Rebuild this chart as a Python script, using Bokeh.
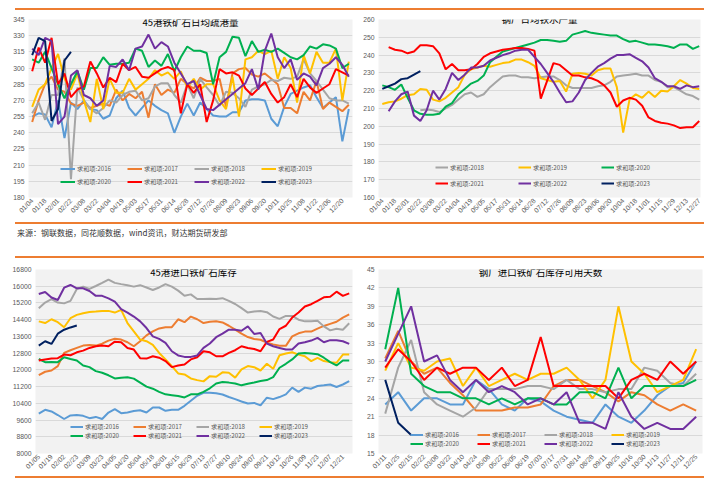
import numpy as np
from bokeh.plotting import figure
from bokeh.models import Range1d, FixedTicker, Legend, LegendItem, Label, Div
from bokeh.layouts import row, column
from bokeh.embed import file_html
from bokeh.resources import INLINE

FONT = "Noto Sans CJK SC"
TICK_FONT = "Liberation Sans"
PLOT_BG = "#f2f2f2"
GRID = "#d9d9d9"
TXT = "#595959"
ORANGE = "#ED7D31"

years = ["2016", "2017", "2018", "2019", "2020", "2021", "2022", "2023"]
colors = ["#5B9BD5", "#ED7D31", "#A5A5A5", "#FFC000", "#00B050", "#FF0000", "#7030A0", "#002060"]
series_prefix = "求和项:"

# ---------------- panel 1: 45港铁矿石日均疏港量 ----------------
tl_title = "45港铁矿石日均疏港量"
tl_ticks = ["01/04", "01/18", "02/01", "02/22", "03/08", "03/22", "04/04", "04/19", "05/03",
            "05/17", "05/31", "06/14", "06/28", "07/12", "07/26", "08/09", "08/23", "09/06",
            "09/20", "10/11", "10/25", "11/08", "11/22", "12/06", "12/20"]
tl_2016 = [255, 258, 257, 245, 270, 235, 268, 262, 270, 262, 261, 253, 256, 272, 279, 263, 256, 263,
           270, 265, 261, 258, 240, 255, 267, 256, 268, 262, 256, 255, 255, 259, 259, 270, 271, 271,
           270, 253, 246, 264, 276, 279, 282, 284, 273, 263, 268, 273, 232, 262]
tl_2017 = [250, 270, 285, 292, 280, 278, 267, 265, 268, 263, 265, 267, 265, 280, 270, 276, 272, 278,
           254, 285, 275, 280, 277, 290, 285, 281, 291, 288, 288, 290, 264, 295, 299, 300, 294, 292,
           295, 290, 285, 263, 263, 258, 278, 270, 288, 262, 268, 264, 260, 266]
tl_2018 = [258, 268, 252, 275, 275, 309, 197, 282, 270, 262, 258, 263, 270, 268, 275, 278, 279, 270,
           272, 283, 286, 286, 275, 268, 285, 272, 290, 282, 275, 265, 278, 277, 272, 264, 280, 283,
           285, 289, 288, 291, 290, 292, 308, 295, 288, 280, 272, 270, 270, 267]
tl_2019 = [264, 280, 285, 300, 313, 290, 280, 295, 270, 250, 290, 262, 290, 277, 277, 290, 280, 285,
           290, 298, 293, 296, 290, 297, 282, 290, 280, 285, 285, 270, 262, 292, 255, 308, 310, 316,
           313, 316, 290, 310, 300, 268, 312, 295, 315, 305, 305, 318, 270, 306]
tl_2020 = [308, 305, 315, 300, 285, 272, 285, 297, 280, 300, 300, 310, 303, 304, 304, 305, 318, 316,
           301, 307, 302, 313, 297, 310, 320, 316, 316, 314, 285, 310, 315, 329, 328, 311, 325, 315,
           317, 315, 318, 314, 310, 308, 312, 320, 318, 322, 321, 318, 300, 304]
tl_2021 = [297, 319, 305, 328, 285, 295, 273, 280, 283, 306, 295, 282, 291, 287, 304, 298, 301, 292,
           291, 295, 299, 301, 298, 258, 285, 277, 285, 250, 270, 299, 295, 296, 293, 281, 275, 281,
           287, 276, 268, 273, 285, 273, 290, 282, 277, 281, 285, 299, 296, 293]
tl_2022 = [318, 312, 328, 325, 248, 255, 293, 298, 275, 272, 265, 270, 302, 301, 308, 298, 318, 320,
           331, 318, 324, 320, 305, 295, 285, 288, 275, 262, 261, 266, 271, 276, 281, 286, 299, 280,
           316, 332, 310, 300, 308, 289, 295, 292, 284, 300, 304, 310, 303, 292]
tl_2023 = [312, 328, 325, 251, 262, 307, 315]

# ---------------- panel 2: 钢厂日均铁水产量 ----------------
tr_title = "钢厂日均铁水产量"
tr_ticks = ["01/04", "01/18", "02/01", "02/22", "03/08", "03/22", "04/04", "04/19", "05/05",
            "05/17", "05/31", "06/14", "06/28", "07/12", "07/26", "08/09", "08/23", "09/06",
            "09/20", "10/04", "10/18", "11/01", "11/15", "11/29", "12/13", "12/27"]
tr_2018 = [None, None, None, None, None, None, 209, 209.5, 209, 208, 210, 212, 215, 218, 219, 216.5,
           218, 222, 225, 228, 228.5, 228.5, 227.5, 227.5, 227, 227.5, 228, 228, 226, 223, 221.5,
           221.5, 221.5, 221.5, 222.5, 223, 225, 228, 228.5, 229, 229.5, 228.5, 228.5, 226, 225, 222,
           222, 220, 218, 217, 215]
tr_2019 = [212.5, 213.5, 214, 215.5, 217.5, 218, 221, 220.5, 215, 214, 216, 219, 222, 229, 232, 233,
           234, 233.5, 234.5, 235.5, 236, 237.5, 237.5, 236, 234, 227, 226, 225, 225.5, 219.5, 229.5,
           230, 229.5, 228.5, 231.5, 232.5, 232.5, 222, 196.5, 215, 218, 216, 219.5, 216.5, 220,
           219.5, 222.5, 226, 224, 221.5, 221]
tr_2020 = [223, 222, 220.5, 223.5, 216, 209, 207, 206.5, 206.5, 207, 211, 213, 218, 221, 224, 225.5,
           228.5, 236, 239, 242, 243, 244, 245, 246, 247, 248.5, 248.5, 248, 247.5, 248, 251.5, 252.5,
           253.5, 252.5, 252, 251.5, 251, 251, 249, 247.5, 248, 247, 246, 246, 245.5, 245, 244, 246,
           246, 243.5, 245]
tr_2021 = [None, 244.5, 243, 242.5, 241, 242, 245.5, 245.5, 245, 241, 232, 235, 231.5, 231.5, 232, 235,
           239, 241, 242, 243, 243.5, 244, 244, 243.5, 242.5, 215.5, 225.5, 235.5, 234.5, 231.5,
           228.5, 228.5, 227.5, 227, 225.5, 223, 219, 211, 214.5, 216, 215, 211.5, 205, 203, 202,
           201.5, 200.5, 199, 199.5, 199.5, 203]
tr_2022 = [None, 208.5, 214, 218, 219.5, 206, 203, 209, 220, 215, 221, 230, 226, 229, 233, 233, 234,
           237, 238.5, 240, 241, 242.5, 243, 243, 239, 235, 230, 225, 219, 213.5, 214, 219, 226, 230,
           233.5, 235.5, 238, 240, 240, 240.5, 238.5, 236.5, 233, 227, 225, 222.5, 222.5, 221, 223,
           222, 222.5]
tr_2023 = [221, 222.5, 224, 226.5, 227, 229, 231]

# ---------------- panel 3: 45港进口铁矿石库存 ----------------
bl_title = "45港进口铁矿石库存"
bl_ticks = ["01/05", "01/19", "02/02", "02/23", "03/09", "03/23", "04/05", "04/20", "05/04",
            "05/18", "06/01", "06/15", "06/29", "07/13", "07/27", "08/10", "08/24", "09/07",
            "09/21", "10/12", "10/26", "11/09", "11/23", "12/07", "12/21"]
bl_2016 = [9910, 10090, 10010, 9840, 9650, 9820, 9840, 9800, 9690, 9750, 9650, 9960, 10120, 9930,
           9960, 10030, 10070, 9960, 10200, 10200, 10040, 10090, 10090, 10280, 10520, 10760, 10900,
           10910, 10880, 10820, 10700, 10600, 10490, 10390, 10420, 10300, 10670, 10600, 10700,
           10830, 11150, 10950, 11150, 11100, 11230, 11260, 11300, 11180, 11300, 11460]
bl_2017 = [11750, 11910, 11970, 12180, 12810, 12940, 13050, 13160, 13190, 13160, 13250, 13400,
           13490, 13450, 13320, 13130, 13370, 13650, 13840, 13980, 14040, 14040, 14420, 14280,
           14550, 14420, 14240, 14300, 14330, 14270, 14110, 13920, 13730, 13570, 13480, 13440,
           13300, 13220, 13150, 13150, 13600, 13750, 13830, 13830, 13970, 14100, 14200, 14300,
           14500, 14650]
bl_2018 = [14950, 15220, 15380, 15220, 15180, 15300, 15870, 15980, 15870, 16010, 16160, 16320,
           16160, 16100, 16050, 15980, 16050, 15940, 15820, 15940, 16100, 15980, 15790, 15540,
           15610, 15390, 15390, 15400, 15390, 15430, 15300, 15150, 14950, 14740, 14790, 14820,
           14760, 14550, 14440, 14580, 14580, 14400, 14320, 14320, 14350, 14080, 13890, 13970,
           13920, 14230]
bl_2019 = [14320, 14240, 14420, 14280, 14040, 14470, 14630, 14710, 14770, 14790, 14820, 14820,
           14740, 14870, 14240, 13840, 13450, 13370, 13200, 12810, 12500, 12180, 11830, 11780,
           11590, 11510, 11450, 11700, 11670, 11880, 11860, 11630, 12020, 12180, 12130, 11970,
           12290, 12050, 12700, 12780, 12840, 12730, 12650, 12420, 12570, 12420, 12370, 12340,
           12730, 12730]
bl_2020 = [12520, 12370, 12380, 12370, 12600, 12520, 12450, 12210, 12130, 11940, 11860, 11740,
           11590, 11620, 11650, 11580, 11390, 11200, 11100, 10950, 10830, 10790, 10750, 10680,
           10830, 10830, 10950, 11120, 11350, 11420, 11390, 11350, 11260, 11340, 11400, 11470,
           11510, 11650, 12100, 12290, 12500, 12780, 12810, 12780, 12750, 12580, 12370, 12210,
           12450, 12450]
bl_2021 = [12450, 12500, 12540, 12560, 12730, 12700, 12840, 12920, 13050, 13130, 13160, 13130,
           13350, 13320, 13050, 12970, 12560, 12540, 12650, 12580, 12420, 12130, 12210, 12260,
           12500, 12600, 12890, 12840, 12650, 12650, 12810, 12940, 13130, 13050, 13000, 12890,
           13340, 13450, 13950, 14110, 14500, 14740, 15030, 15140, 15300, 15470, 15500, 15740,
           15540, 15660]
bl_2022 = [15630, 15720, 15460, 15340, 15930, 16060, 15900, 15900, 15770, 15540, 15540, 15420,
           15260, 14900, 14740, 14550, 14320, 14000, 13600, 13480, 13290, 12890, 12690, 12620,
           12620, 12690, 13050, 13260, 13560, 13730, 13920, 13920, 13870, 14080, 13720, 13760,
           13260, 13130, 13050, 12970, 12970, 13260, 13320, 13400, 13530, 13320, 13420, 13420,
           13370, 13240]
bl_2023 = [13160, 13370, 13240, 13730, 13920, 14030, 14120]

# ---------------- panel 4: 钢厂进口铁矿石库存可用天数 ----------------
br_title = "钢厂进口铁矿石库存可用天数"
br_ticks = ["01/11", "01/25", "02/15", "02/22", "03/08", "03/22", "04/10", "04/24", "05/08",
            "05/22", "06/05", "06/19", "07/03", "07/17", "07/31", "08/14", "08/28", "09/11",
            "09/25", "10/16", "10/30", "11/13", "11/27", "12/11", "12/25"]
br_2016 = [23, 25, 22, 24, 24, 23, 23, 27, 25.5, 23, 22, 24, 23.5, 22, 21, 20.5, 20, 23, 21, 20, 22,
           24.5, 26, 26.5, 30]
br_2017 = [30.5, 35, 30, 28, 29, 26.5, 24.5, 22, 22, 22, 22.5, 22.5, 23, 26, 27, 27, 26, 25, 23.5,
           25, 24.5, 23, 22, 23, 22]
br_2018 = [21.5, 29, 33.5, 25, 23, 22, 21, 22.5, 25.5, 25.5, 25.5, 26, 26, 25.5, 27, 25.5, 25.5, 25,
           25.5, 25.5, 29, 28.5, 26.5, 26, 28]
br_2019 = [28.5, 33, 29, 28.5, 30, 30.5, 26, 29, 26, 27, 28, 27, 28, 28, 29, 27, 24, 27, 39, 30, 28,
           25, 26, 27, 32]
br_2020 = [32, 42, 28, 26, 25, 25, 24, 24, 23, 24, 23, 24, 24, 23, 23, 25, 25, 24, 29, 24, 26, 26, 26,
           26, 27]
br_2021 = [29, 32, 30, 27, 29, 28, 29, 29, 27, 29, 26, 27, 34, 26, 26, 26, 26, 26, 24, 27, 28, 27, 30,
           28, 30]
br_2022 = [30, 34.5, 39, 30, 31, 27, 25, 27, 25, 26, 25, 23, 24, 23, 25, 20, 20, 19, 25, 21, 19, 20, 19,
           19, 21]
br_2023 = [27, 20, 18]

source_text = "来源：钢联数据，同花顺数据，wind资讯，财达期货研发部"


def build(title, tick_labels, label_every, series, ylo, yhi, ystep, size, borders, xr,
          title_dy, leg):
    w, h = size
    b_l, b_r, b_t, b_b = borders
    p = figure(width=w, height=h, x_range=Range1d(*xr), y_range=Range1d(ylo, yhi),
               output_backend="svg", toolbar_location=None,
               min_border_left=b_l, min_border_right=b_r, min_border_top=b_t,
               min_border_bottom=b_b)
    p.background_fill_color = PLOT_BG
    p.border_fill_color = "white"
    p.outline_line_color = None
    p.xgrid.visible = False
    p.ygrid.grid_line_color = GRID
    p.ygrid.grid_line_width = 1
    yt = [float(v) for v in np.arange(ylo, yhi + ystep / 2, ystep)]
    p.yaxis.ticker = FixedTicker(ticks=yt)
    p.ygrid.ticker = FixedTicker(ticks=yt)
    xt = [i * label_every for i in range(len(tick_labels))]
    p.xaxis.ticker = FixedTicker(ticks=xt)
    p.xaxis.major_label_overrides = {t: lab for t, lab in zip(xt, tick_labels)}
    p.xaxis.major_label_orientation = np.pi / 4
    for ax in (p.xaxis, p.yaxis):
        ax.axis_line_color = None
        ax.major_tick_line_color = None
        ax.minor_tick_line_color = None
        ax.major_tick_out = 0
        ax.major_tick_in = 0
        ax.minor_tick_out = 0
        ax.minor_tick_in = 0
        ax.major_label_text_font = TICK_FONT
        ax.major_label_text_font_size = "6.8px"
        ax.major_label_text_color = TXT
    p.yaxis.major_label_standoff = 4
    p.xaxis.major_label_standoff = 2

    items = []
    for yr, vals in series:
        arr = np.array([np.nan if v is None else v for v in vals], dtype=float)
        x = np.arange(len(arr))
        c = colors[years.index(yr)]
        r = p.line(x, arr, line_color=c, line_width=2)
        items.append(LegendItem(label=series_prefix + yr, renderers=[r]))

    lx, ly, pitch, gw, colw, ncol = leg
    rows = [items[:ncol], items[ncol:]]
    for k, its in enumerate(rows):
        lg = Legend(items=its, orientation="horizontal",
                    location=(lx, ly + (1 - k) * pitch),
                    glyph_width=int(gw), glyph_height=int(pitch), label_height=int(pitch),
                    label_width=int(round(colw - gw - 2)), label_standoff=2, spacing=0,
                    padding=0, margin=0, border_line_color=None,
                    background_fill_alpha=0, label_text_font=FONT,
                    label_text_font_size="6.2px", label_text_color=TXT)
        p.add_layout(lg)

    fw = w - b_l - b_r
    fh = h - b_t - b_b
    p.add_layout(Label(x=round(fw / 2), y=fh - title_dy, x_units="screen", y_units="screen",
                       text=title, text_align="center", text_baseline="middle",
                       text_font=FONT, text_font_size="9.5px", text_font_style="normal",
                       text_color="#000000", background_fill_color=PLOT_BG,
                       padding=1))
    return p


tl = build(tl_title, tl_ticks, 2,
           list(zip(years, [tl_2016, tl_2017, tl_2018, tl_2019, tl_2020, tl_2021, tl_2022, tl_2023])),
           180, 345, 15, (357, 212), (28, 5, 8, 25), (-0.57, 49.57), 3,
           (32, 9.5, 13, 15, 66.7, 4))
tr = build(tr_title, tr_ticks, 2,
           list(zip(years[2:], [tr_2018, tr_2019, tr_2020, tr_2021, tr_2022, tr_2023])),
           160, 260, 10, (357, 212), (21, 14, 9, 21), (-0.6, 50.2), 3,
           (57, 6, 16, 13, 83.5, 3))
bl = build(bl_title, bl_ticks, 2,
           list(zip(years, [bl_2016, bl_2017, bl_2018, bl_2019, bl_2020, bl_2021, bl_2022, bl_2023])),
           8000, 16800, 800, (357, 218), (35, 5, 10, 23), (-0.52, 49.52), 3,
           (35, 13.5, 9, 13, 62.7, 4))
br = build(br_title, br_ticks, 1,
           list(zip(years, [br_2016, br_2017, br_2018, br_2019, br_2020, br_2021, br_2022, br_2023])),
           15, 45, 3, (357, 218), (21, 12, 11, 22), (-0.52, 24.49), 3,
           (32, 5.5, 9, 13, 66.7, 4))


def orange_line(top=0):
    return Div(text="", width=689, height=2, margin=(top, 0, 0, 15),
               styles={"background-color": ORANGE})


src = Div(text=source_text, width=680, height=32, margin=(0, 0, 0, 17),
          styles={"font-size": "8px", "line-height": "10px", "color": "#333333",
                  "font-family": FONT, "padding-top": "4px", "box-sizing": "border-box"})

layout = column(orange_line(8), row(tl, tr), orange_line(), src, orange_line(),
                row(bl, br), orange_line())

open("out.html", "w").write(file_html(layout, INLINE))
